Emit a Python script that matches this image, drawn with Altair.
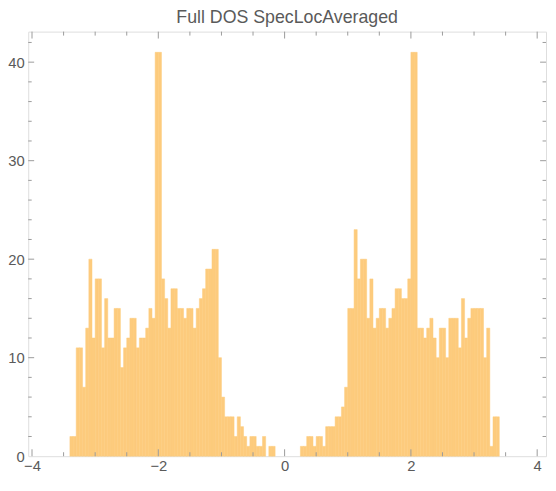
import altair as alt
import pandas as pd

# ---- data (histogram, bin width 0.05) ----
BIN_WIDTH = 0.05
left_start = -3.40
left_counts = [2, 2, 11, 11, 7, 13, 20, 12, 18, 18,
               11, 16, 12, 12, 15, 15, 9, 11, 12, 14,
               14, 11, 12, 12, 13, 15, 14, 41, 41, 18,
               16, 13, 17, 17, 15, 15, 14, 15, 15, 13,
               15, 16, 17, 19, 19, 21, 21, 10, 6, 4,
               4, 4, 2, 4, 3, 2, 1, 2, 2, 1,
               1, 2, 0, 1, 1]
right_start = 0.25
right_counts = [1, 1, 2, 2, 1, 2, 2, 1, 3, 3,
                3, 4, 4, 5, 7, 15, 15, 23, 18, 20,
                20, 14, 18, 13, 14, 15, 15, 13, 14, 15,
                17, 17, 16, 16, 18, 41, 41, 13, 13, 12,
                13, 14, 12, 10, 13, 13, 10, 14, 14, 14,
                11, 16, 12, 14, 15, 15, 15, 15, 10, 13,
                1, 4, 4]

x_major = [-4, -2, 0, 2, 4]
x_minor = [-3.5, -3, -2.5, -1.5, -1, -0.5, 0.5, 1, 1.5, 2.5, 3, 3.5]
y_major = [0, 10, 20, 30, 40]
y_minor = [2, 4, 6, 8, 12, 14, 16, 18, 22, 24, 26, 28, 32, 34, 36, 38, 42]

x_domain = [-4.06, 4.14]
y_domain = [0, 43.1]

TITLE = "Full DOS SpecLocAveraged"

# ---- styling ----
BAR = "#FDCB7D"
FRAME = "#a3a3a3"
TICK = "#9a9a9a"
TEXT = "#5a5a5a"
FONT = "Liberation Sans, Arial, sans-serif"

rows = []
for start, counts in ((left_start, left_counts), (right_start, right_counts)):
    for i, c in enumerate(counts):
        s = round(start + i * BIN_WIDTH, 4)
        if c > 0:
            rows.append({"start": s, "end": round(s + BIN_WIDTH, 4), "count": c})
bars_df = pd.DataFrame(rows)

xs = alt.Scale(domain=x_domain, nice=False, zero=False)
ys = alt.Scale(domain=y_domain, nice=False, zero=False)

label_style = dict(labelFont=FONT, labelFontSize=15, labelColor=TEXT,
                   ticks=False, domain=False, grid=False, title=None,
                   labelFlush=False, format="d")
x_axis = alt.Axis(values=x_major, labelPadding=3, **label_style)
y_axis = alt.Axis(values=y_major, labelPadding=4, **label_style)

bars = alt.Chart(bars_df).mark_rect(
    color=BAR, stroke=BAR, strokeWidth=0.5
).encode(
    x=alt.X("start:Q", scale=xs, axis=x_axis),
    x2="end:Q",
    y=alt.Y("count:Q", scale=ys, axis=y_axis),
    y2=alt.Y2Datum(0),
)


def x_ticks(values, length, top):
    edge = y_domain[1] if top else y_domain[0]
    return alt.Chart(pd.DataFrame({"v": values})).mark_rule(
        color=TICK, strokeWidth=1, y2Offset=(length if top else -length)
    ).encode(
        x=alt.X("v:Q", scale=xs, axis=x_axis),
        y=alt.YDatum(edge, scale=ys, axis=y_axis),
        y2=alt.Y2Datum(edge),
    )


def y_ticks(values, length, right):
    edge = x_domain[1] if right else x_domain[0]
    return alt.Chart(pd.DataFrame({"v": values})).mark_rule(
        color=TICK, strokeWidth=1, x2Offset=(-length if right else length)
    ).encode(
        y=alt.Y("v:Q", scale=ys, axis=y_axis),
        x=alt.XDatum(edge, scale=xs, axis=x_axis),
        x2=alt.X2Datum(edge),
    )


layers = [
    bars,
    x_ticks(x_major, 7, False), x_ticks(x_minor, 4, False),
    x_ticks(x_major, 7, True), x_ticks(x_minor, 4, True),
    y_ticks(y_major[1:], 6, False), y_ticks(y_minor, 3.5, False),
    y_ticks(y_major[1:], 6, True), y_ticks(y_minor, 3.5, True),
]

chart = alt.layer(*layers).properties(
    width=524.8,
    height=430.3,
    title=alt.TitleParams(text=TITLE, fontSize=18, font=FONT, color=TEXT,
                          fontWeight="normal", anchor="middle", offset=4),
    autosize=alt.AutoSizeParams(type="none"),
    padding={"left": 20.5, "top": 20.7, "right": 2, "bottom": 30},
).configure_view(
    stroke=FRAME, strokeWidth=1
).configure(background="white")

chart.save("out.html", embed_options={"renderer": "svg", "actions": False})
